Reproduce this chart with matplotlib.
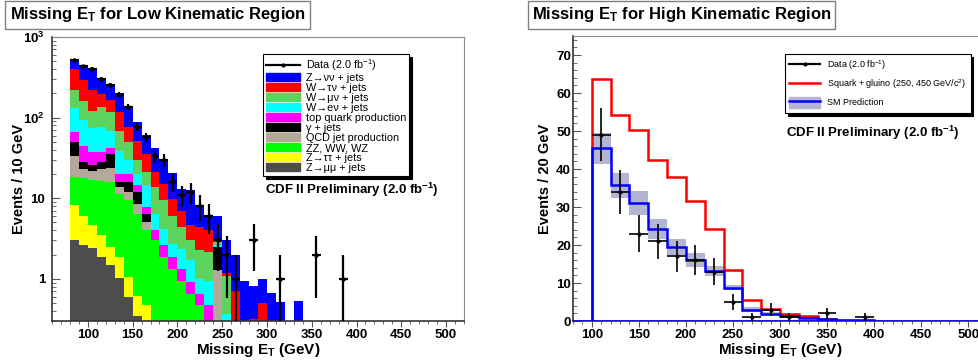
import numpy as np
import matplotlib
matplotlib.use("Agg")
import matplotlib.pyplot as plt
from matplotlib.patches import Patch
from matplotlib.lines import Line2D
from matplotlib.ticker import MultipleLocator, LogLocator, FixedLocator, NullFormatter

plt.rcParams["font.family"] = ["Liberation Sans", "DejaVu Sans"]
plt.rcParams["mathtext.fontset"] = "custom"
plt.rcParams["mathtext.rm"] = "Liberation Sans"
plt.rcParams["mathtext.bf"] = "Liberation Sans:bold"
plt.rcParams["mathtext.it"] = "Liberation Sans:italic"

# ---------------- low kinematic region (10 GeV bins, 80-340 GeV) ----------------
low_edges = np.arange(80, 350, 10)
zmumu = [3.05, 2.64, 2.4, 1.86, 1.49, 1.02, 0.59, 0.35, 0.2, 0.1, 0.05, 0, 0,
         0, 0, 0, 0, 0, 0, 0, 0, 0, 0, 0, 0, 0]
ztautau = [5.25, 3.36, 2.2, 1.64, 1.01, 0.84, 0.46, 0.27, 0.27, 0.18, 0.1, 0.1, 0.05,
           0, 0, 0.05, 0, 0, 0, 0, 0, 0, 0, 0, 0, 0]
diboson = [9.9, 11.8, 12.3, 12.7, 13.3, 9.54, 8.35, 5.78, 3.53, 2.72, 1.71, 1.23, 0.9,
           0.65, 0.47, 0.15, 0.05, 0, 0, 0, 0, 0, 0, 0, 0, 0]
qcd = [14.8, 5.4, 5.1, 6.8, 8.2, 2.3, 2.5, 2.1, 1.05, 0, 0, 0, 0,
       0, 0, 0, 1.24, 0, 0, 0, 0, 0, 0, 0, 0, 0]
gammajets = [17, 5.3, 3.5, 5, 11, 2.1, 3.9, 3.4, 1.35, 0, 0, 0, 0,
             0, 0, 0, 1.18, 0, 0, 0, 0, 0, 0, 0, 0, 0]
topq = [17, 15.5, 11.5, 9, 7, 4.2, 4.3, 2.5, 1.35, 1.0, 0.74, 0.53, 0.38,
        0.26, 0.18, 0.27, 0, 0, 0, 0, 0, 0, 0, 0, 0, 0]
wenu = [65, 50, 37, 39, 27, 19, 9.3, 5.7, 6.65, 2.4, 1.57, 0.86, 1.03,
        0.78, 0.35, 0.48, 0.13, 0.37, 0, 0, 0, 0, 0, 0, 0, 0]
wmunu = [86, 66, 48, 59, 48, 30, 20.6, 9.3, 6.6, 7.3, 5.23, 3.38, 2.02,
         1.31, 1.25, 1.19, 0.25, 0.73, 0, 0, 0, 0, 0, 0, 0, 0]
wtaunu = [178, 134, 100, 63, 47, 48, 26, 22.6, 14, 7.3, 5.7, 3.7, 2.62,
          1.6, 2.15, 1.86, 0.25, 0.07, 0.7, 0, 0.32, 0.5, 0, 0, 0, 0]
znunu = [127, 146, 174, 112, 99, 83, 65, 36, 26, 21, 15.9, 10.6, 6.1,
         8.1, 3.7, 2.1, 3.0, 1.83, 1.3, 0.93, 0.5, 0.5, 0.67, 0.52, 0, 0.53]

low_names = ["Z\u2192\u03bd\u03bd + jets", "W\u2192\u03c4\u03bd + jets",
             "W\u2192\u03bc\u03bd + jets", "W\u2192e\u03bd + jets",
             "top quark production", "\u03b3 + jets", "QCD jet production",
             "ZZ, WW, WZ", "Z\u2192\u03c4\u03c4 + jets", "Z\u2192\u03bc\u03bc + jets"]
low_colors = ["#0000ff", "#ff0000", "#5cd35c", "#00ffff", "#ff00ff",
              "#000000", "#b4a898", "#00ff00", "#ffff00", "#4d4d4d"]

low_data_x = [85, 95, 105, 115, 125, 135, 145, 155, 165, 175, 185, 195, 205,
              215, 225, 235, 245, 255, 265, 285, 315, 355, 385]
low_data = [512, 432, 404, 298, 256, 192, 135, 76, 57, 33, 30, 16, 11,
            12, 8, 6, 3, 2, 1, 3, 1, 2, 1]

# ---------------- high kinematic region (20 GeV bins, 100-400 GeV) ----------------
high_edges = np.arange(100, 420, 20)
signal = [63.6, 54.2, 50.2, 42.3, 38.0, 31.5, 24.2, 13.5, 5.4, 3.2, 1.9, 1.2, 0.6, 0, 0]
sm_pred = [45.4, 35.7, 31.1, 24.2, 19.5, 16.0, 13.1, 8.8, 3.0, 1.9, 1.2, 0.9, 0.5, 0.2, 0.3]
sm_err = [4.1, 3.3, 3.2, 2.6, 2.1, 1.8, 1.3, 0.65, 0.6, 0.5, 0.4, 0.3, 0.3, 0.2, 0.3]

high_data_x = [110, 130, 150, 170, 190, 210, 230, 250, 270, 290, 310, 350, 390]
high_data = [49, 34, 23, 21, 17, 16, 13, 5, 1, 3, 1, 2, 1]

W, H = 979, 363
fig = plt.figure(figsize=(W / 100, H / 100), dpi=100)
ax1 = fig.add_axes([52 / W, 1 - 321 / H, 412 / W, 284 / H])
ax2 = fig.add_axes([573 / W, 1 - 321 / H, 414 / W, 285 / H])

def style_axes(ax):
    for s in ["top", "right"]:
        ax.spines[s].set_color("#8c8c8c")
        ax.spines[s].set_linewidth(0.8)
    for s in ["left", "bottom"]:
        ax.spines[s].set_color("#333333")
        ax.spines[s].set_linewidth(1.2)
    ax.tick_params(axis="y", which="both", direction="in", left=True, right=False,
                   color="#555555", labelsize=9.5)
    ax.tick_params(axis="x", which="both", direction="out", top=False,
                   color="#555555", labelsize=9.5, pad=2)
    ax.tick_params(axis="y", which="major", length=6)
    ax.tick_params(axis="y", which="minor", length=3)
    ax.tick_params(axis="x", which="major", length=4)
    ax.tick_params(axis="x", which="minor", length=2.5)
    for lab in ax.get_xticklabels() + ax.get_yticklabels():
        lab.set_fontweight("bold")
    ax.xaxis.set_major_locator(MultipleLocator(50))
    ax.xaxis.set_minor_locator(MultipleLocator(10))
    ax.set_xlabel(r"Missing E$_{\mathbf{T}}$ (GeV)", fontsize=11, fontweight="bold", labelpad=0)

# ---- left panel: stacked backgrounds on log scale
stack = np.cumsum(np.array([zmumu, ztautau, diboson, qcd, gammajets, topq,
                            wenu, wmunu, wtaunu, znunu]), axis=0)
for top, col in zip(stack[::-1], low_colors):
    ax1.stairs(top, low_edges, baseline=1e-3, fill=True, color=col, lw=0)

ax1.errorbar(low_data_x, low_data, xerr=5, yerr=np.sqrt(low_data), fmt="o", ms=2.2,
             color="black", elinewidth=1.6, capsize=0, zorder=5)
ax1.set_yscale("log")
ax1.set_xlim(60, 520)
ax1.set_ylim(0.3, 1000)
ax1.yaxis.set_major_locator(FixedLocator([1, 10, 100, 1000]))
ax1.yaxis.set_minor_locator(LogLocator(subs=np.arange(2, 10)))
ax1.yaxis.set_minor_formatter(NullFormatter())
ax1.set_yticklabels(["1", "10", r"$\mathbf{10^{2}}$", r"$\mathbf{10^{3}}$"])
style_axes(ax1)
ax1.tick_params(axis="y", which="both", pad=5)
ax1.set_ylabel("Events / 10 GeV", fontsize=10.5, fontweight="bold", labelpad=-2)

handles = [Line2D([], [], color="black", lw=1.6, marker="o", ms=2)]
handles += [Patch(facecolor=c, edgecolor=c) for c in low_colors]
labels = [r"Data (2.0 fb$^{-1}$)"] + low_names
leg1 = ax1.legend(handles, labels, loc="upper left", bbox_to_anchor=(0.512, 0.94),
                  fontsize=7.8, frameon=True, fancybox=False, framealpha=1,
                  edgecolor="black", labelspacing=0.0, handlelength=3.1,
                  handleheight=0.75, handletextpad=0.55, borderpad=0.3, borderaxespad=0,
                  shadow={"facecolor": "black", "edgecolor": "black", "alpha": 1})
leg1.get_frame().set_linewidth(0.8)
ax1.text(0.517, 0.46, r"CDF II Preliminary (2.0 fb$^{\mathbf{-1}}$)", transform=ax1.transAxes,
         fontsize=9.5, fontweight="bold", va="center", ha="left")

# ---- right panel: signal vs SM prediction
ax2.stairs(np.add(sm_pred, sm_err), high_edges, baseline=np.subtract(sm_pred, sm_err),
           fill=True, color="#b3b5d3", lw=0, zorder=1)
ax2.stairs(signal, high_edges, baseline=0, color="#ff0000", lw=1.8, zorder=2)
ax2.axhline(0, color="#0000ff", lw=1.8, zorder=3)
ax2.stairs(sm_pred, high_edges, baseline=0, color="#0000ff", lw=1.8, zorder=3)
ax2.errorbar(high_data_x, high_data, xerr=10, yerr=np.sqrt(high_data), fmt="o", ms=2,
             color="black", elinewidth=1.2, capsize=0, zorder=5)
ax2.set_xlim(80, 520)
ax2.set_ylim(0, 75)
ax2.yaxis.set_major_locator(MultipleLocator(10))
ax2.yaxis.set_minor_locator(MultipleLocator(2))
style_axes(ax2)
ax2.tick_params(axis="y", which="both", pad=1.5)
ax2.set_ylabel("Events / 20 GeV", fontsize=10.5, fontweight="bold", labelpad=3)

band = Patch(facecolor="#b3b5d3", edgecolor="#b3b5d3")
sm_line = Line2D([], [], color="#0000ff", lw=1.8)
handles2 = [Line2D([], [], color="black", lw=1.6, marker="o", ms=2),
            Line2D([], [], color="#ff0000", lw=1.8),
            (band, sm_line)]
labels2 = [r"Data (2.0 fb$^{-1}$)", r"Squark + gluino (250, 450 GeV/c$^{2}$)", "SM Prediction"]
leg2 = ax2.legend(handles2, labels2, loc="upper left", bbox_to_anchor=(0.512, 0.937),
                  fontsize=6.5, frameon=True, fancybox=False, framealpha=1,
                  edgecolor="black", labelspacing=0.6, handlelength=3.4,
                  handleheight=1.6, handletextpad=0.75, borderpad=0.5, borderaxespad=0,
                  shadow={"facecolor": "black", "edgecolor": "black", "alpha": 1})
leg2.get_frame().set_linewidth(0.8)
ax2.text(0.514, 0.66, r"CDF II Preliminary (2.0 fb$^{\mathbf{-1}}$)", transform=ax2.transAxes,
         fontsize=9.5, fontweight="bold", va="center", ha="left")

# ---- title boxes
for xc, txt in [(157.5 / W, r"Missing E$_{\mathbf{T}}$ for Low Kinematic Region"),
                (681.5 / W, r"Missing E$_{\mathbf{T}}$ for High Kinematic Region")]:
    fig.text(xc, 1 - 15 / H, txt, fontsize=12, fontweight="bold", ha="center", va="center",
             bbox=dict(boxstyle="square,pad=0.25", facecolor="white", edgecolor="#808080", lw=1))

fig.savefig("out.png", dpi=100, facecolor="white")
